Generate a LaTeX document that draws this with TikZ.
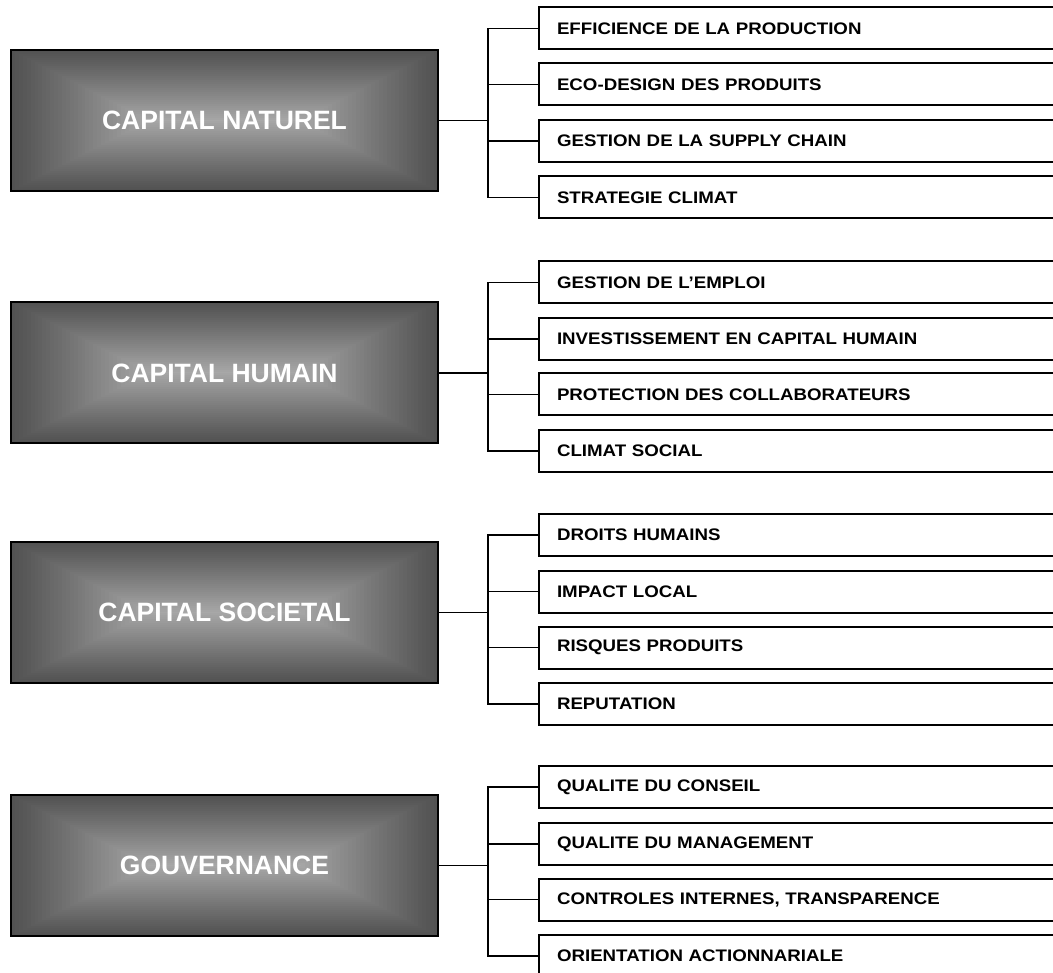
\documentclass[tikz,border=0pt]{standalone}
\usepackage{fontspec}
\usetikzlibrary{calc}
\newfontfamily\lfont{Liberation Sans}
\newfontfamily\rfont[FakeStretch=1.12]{Liberation Sans}
\tikzset{
  lbox/.style={draw=black, line width=2pt, minimum width=427pt, minimum height=141pt,
    inner sep=0pt, text=white, font={\lfont\bfseries\fontsize{26.5pt}{30pt}\selectfont},
    path picture={
      \foreach \s in {0,2,...,70}{
        \pgfmathtruncatemacro{\c}{82+86*((\s/70)^1.05)}
        \definecolor{gcol}{RGB}{\c,\c,\c}
        \fill[gcol] ($(path picture bounding box.south west)+(1.96*\s pt,\s pt)$)
          rectangle ($(path picture bounding box.north east)-(1.96*\s pt,\s pt)$);
      }
    }},
  rbox/.style={draw=black, line width=2pt, anchor=west, minimum height=42pt,
    text width=502pt, inner xsep=18pt, inner ysep=0pt, align=left,
    font={\rfont\bfseries\fontsize{16.7pt}{18pt}\selectfont}},
  conn/.style={draw=black, line width=1.8pt}
}
\begin{document}
\begin{tikzpicture}[x=1pt,y=-1pt]
\clip (0,0) rectangle (1053,973);
\fill[white] (0,0) rectangle (1053,973);
% group 1
\node[lbox] (L1) at (224.5,120.5) {CAPITAL NATUREL};
\node[rbox] (R11) at (538,28.5) {EFFICIENCE DE LA PRODUCTION};
\node[rbox] (R12) at (538,84.5) {ECO-DESIGN DES PRODUITS};
\node[rbox] (R13) at (538,141) {GESTION DE LA SUPPLY CHAIN};
\node[rbox] (R14) at (538,197.5) {STRATEGIE CLIMAT};
\coordinate (J1) at (488,120.5);
% group 2
\node[lbox] (L2) at (224.5,373) {CAPITAL HUMAIN};
\node[rbox] (R21) at (538,282.5) {GESTION DE L’EMPLOI};
\node[rbox] (R22) at (538,339) {INVESTISSEMENT EN CAPITAL HUMAIN};
\node[rbox] (R23) at (538,394.5) {PROTECTION DES COLLABORATEURS};
\node[rbox] (R24) at (538,451) {CLIMAT SOCIAL};
\coordinate (J2) at (488,373);
% group 3
\node[lbox] (L3) at (224.5,612.5) {CAPITAL SOCIETAL};
\node[rbox] (R31) at (538,535) {DROITS HUMAINS};
\node[rbox] (R32) at (538,591.5) {IMPACT LOCAL};
\node[rbox] (R33) at (538,647.5) {RISQUES PRODUITS};
\node[rbox] (R34) at (538,704) {REPUTATION};
\coordinate (J3) at (488,612.5);
% group 4
\node[lbox] (L4) at (224.5,865.5) {GOUVERNANCE};
\node[rbox] (R41) at (538,787) {QUALITE DU CONSEIL};
\node[rbox] (R42) at (538,844) {QUALITE DU MANAGEMENT};
\node[rbox] (R43) at (538,899.5) {CONTROLES INTERNES, TRANSPARENCE};
\node[rbox] (R44) at (538,956) {ORIENTATION ACTIONNARIALE};
\coordinate (J4) at (488,865.5);
% connectors
\foreach \g in {1,2,3,4}{
  \draw[conn] (L\g.east) -- (J\g);
  \foreach \k in {1,2,3,4}{
    \draw[conn] (J\g) |- (R\g\k.west);
  }
}
\end{tikzpicture}
\end{document}
